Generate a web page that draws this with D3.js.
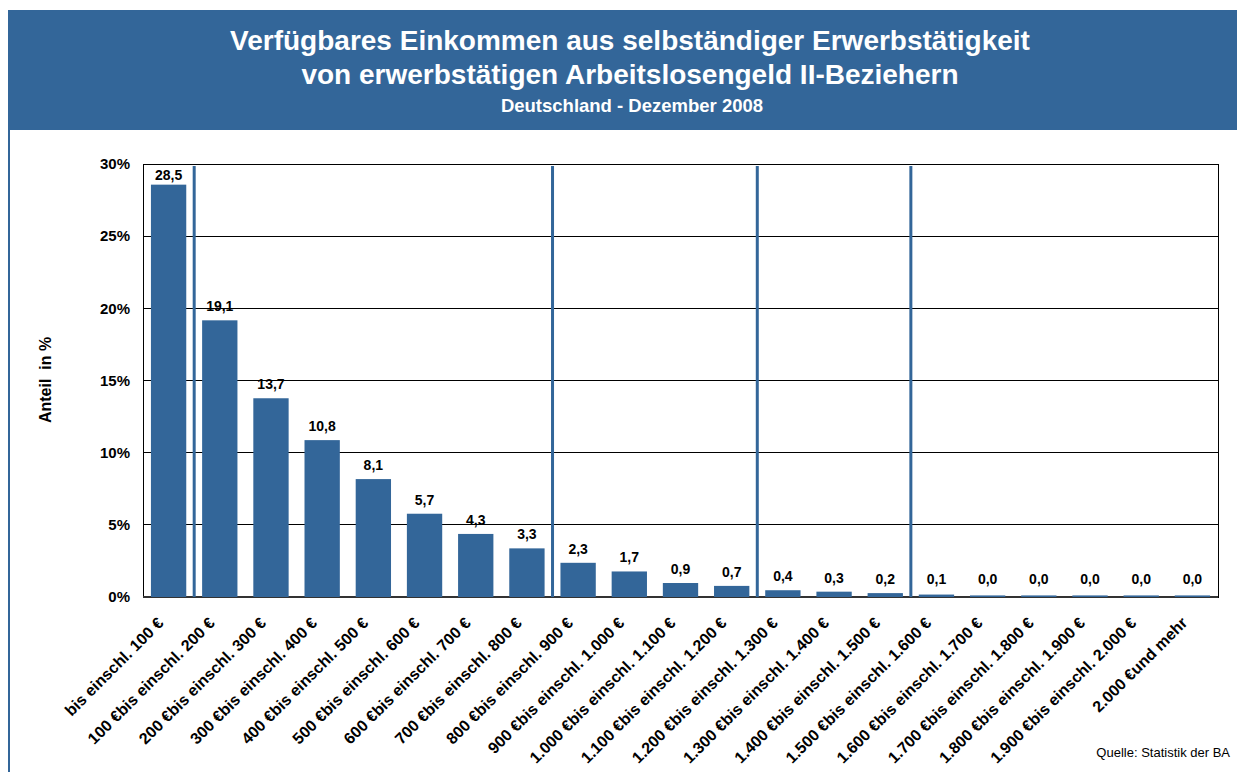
<!DOCTYPE html>
<meta charset="utf-8">
<style>
    body {
        margin: 0;
        background: #fff;
    }

    svg {
        font-family: "Liberation Sans", Arial, sans-serif;
    }
</style>
<body>
<script src="https://d3js.org/d3.v7.min.js"></script>
<script>
    // categories (x axis) and shares in %
    const categories = [
        "bis einschl. 100 €", "100 €bis einschl. 200 €", "200 €bis einschl. 300 €",
        "300 €bis einschl. 400 €", "400 €bis einschl. 500 €", "500 €bis einschl. 600 €",
        "600 €bis einschl. 700 €", "700 €bis einschl. 800 €", "800 €bis einschl. 900 €",
        "900 €bis einschl. 1.000 €", "1.000 €bis einschl. 1.100 €", "1.100 €bis einschl. 1.200 €",
        "1.200 €bis einschl. 1.300 €", "1.300 €bis einschl. 1.400 €", "1.400 €bis einschl. 1.500 €",
        "1.500 €bis einschl. 1.600 €", "1.600 €bis einschl. 1.700 €", "1.700 €bis einschl. 1.800 €",
        "1.800 €bis einschl. 1.900 €", "1.900 €bis einschl. 2.000 €", "2.000 €und mehr"
    ];
    const values = [28.5, 19.1, 13.7, 10.8, 8.1, 5.7, 4.3, 3.3, 2.3, 1.7, 0.9, 0.7,
        0.4, 0.3, 0.2, 0.1, 0.04, 0.04, 0.04, 0.04, 0.04];
    const yTicks = [0, 5, 10, 15, 20, 25, 30];
    // separator lines drawn before these categories
    const separators = [1, 8, 12, 15];

    const titleLines = [
        "Verfügbares Einkommen aus selbständiger Erwerbstätigkeit",
        "von erwerbstätigen Arbeitslosengeld II-Beziehern"
    ];
    const subtitle = "Deutschland - Dezember 2008";

    const width = 1237, height = 772;
    const blue = "#336699";
    const plot = {left: 143, right: 1218, top: 164, bottom: 597};

    const svg = d3.select("body").append("svg")
        .attr("width", width)
        .attr("height", height);

    // header band
    svg.append("rect")
        .attr("x", 8).attr("y", 10)
        .attr("width", width - 8).attr("height", 120)
        .attr("fill", blue);
    svg.append("line")
        .attr("x1", 9).attr("x2", 9)
        .attr("y1", 130).attr("y2", height)
        .attr("stroke", blue).attr("stroke-width", 2);

    svg.selectAll(".title")
        .data(titleLines)
        .enter().append("text")
        .attr("class", "title")
        .attr("x", 630)
        .attr("y", (d, i) => 50 + i * 34)
        .attr("text-anchor", "middle")
        .attr("fill", "#fff")
        .style("font-size", "28px")
        .style("font-weight", "bold")
        .text(d => d);
    svg.append("text")
        .attr("x", 632).attr("y", 112)
        .attr("text-anchor", "middle")
        .attr("fill", "#fff")
        .style("font-size", "18.5px")
        .style("font-weight", "bold")
        .text(subtitle);

    const x = d3.scaleBand()
        .domain(categories)
        .range([plot.left, plot.right])
        .paddingInner(0.31)
        .paddingOuter(0.155);
    const xb = d3.scaleBand().domain(categories).range([plot.left, plot.right]);

    const y = d3.scaleLinear()
        .domain([0, 30])
        .range([plot.bottom, plot.top]);

    // gridlines
    svg.append("g")
        .selectAll("line")
        .data(yTicks)
        .enter().append("line")
        .attr("x1", plot.left).attr("x2", plot.right)
        .attr("y1", d => y(d)).attr("y2", d => y(d))
        .attr("stroke", "#000").attr("stroke-width", 1)
        .attr("shape-rendering", "crispEdges");

    // plot frame + base line
    svg.append("rect")
        .attr("x", plot.left).attr("y", plot.top)
        .attr("width", plot.right - plot.left)
        .attr("height", plot.bottom - plot.top)
        .attr("fill", "none")
        .attr("stroke", "#000").attr("stroke-width", 1)
        .attr("shape-rendering", "crispEdges");
    svg.append("line")
        .attr("x1", plot.left).attr("x2", plot.right)
        .attr("y1", plot.bottom).attr("y2", plot.bottom)
        .attr("stroke", "#333").attr("stroke-width", 2);

    // y axis labels
    const yAxis = d3.axisLeft(y)
        .tickValues(yTicks)
        .tickSize(0)
        .tickPadding(13)
        .tickFormat(d => d + "%");
    svg.append("g")
        .attr("transform", "translate(" + plot.left + ",0)")
        .call(yAxis)
        .call(g => g.select(".domain").remove())
        .selectAll("text")
        .style("font-size", "15px")
        .style("font-weight", "bold")
        .style("font-family", "Liberation Sans, Arial, sans-serif")
        .attr("fill", "#000");

    svg.append("text")
        .attr("transform", "translate(51,380) rotate(-90)")
        .attr("text-anchor", "middle")
        .attr("xml:space", "preserve")
        .style("white-space", "pre")
        .style("font-size", "16px")
        .style("font-weight", "bold")
        .text("Anteil  in %");

    // bars (drawn over the base line, like the original)
    svg.append("g")
        .selectAll("rect")
        .data(values)
        .enter().append("rect")
        .attr("x", (d, i) => x(categories[i]))
        .attr("y", d => y(d) - 1)
        .attr("width", x.bandwidth())
        .attr("height", d => y(0) - y(d) + 1)
        .attr("fill", blue);

    // value labels
    const fmt = d => d3.format(".1f")(d).replace(".", ",");
    svg.append("g")
        .selectAll("text")
        .data(values)
        .enter().append("text")
        .attr("x", (d, i) => x(categories[i]) + x.bandwidth() / 2)
        .attr("y", d => Math.max(180, Math.min(584, y(d) - 10)))
        .attr("text-anchor", "middle")
        .style("font-size", "14px")
        .style("font-weight", "bold")
        .text(fmt);

    // separators
    svg.append("g")
        .selectAll("line")
        .data(separators)
        .enter().append("line")
        .attr("x1", d => xb(categories[d]))
        .attr("x2", d => xb(categories[d]))
        .attr("y1", plot.top + 2).attr("y2", plot.bottom)
        .attr("stroke", blue).attr("stroke-width", 3);

    // x labels
    svg.append("g")
        .selectAll("text")
        .data(categories)
        .enter().append("text")
        .attr("transform", d => "translate(" + (x(d) + x.bandwidth() / 2 - 8) + ",620) rotate(-45)")
        .attr("text-anchor", "end")
        .attr("dy", "0.35em")
        .style("font-size", "16px")
        .style("font-weight", "bold")
        .text(d => d);

    svg.append("text")
        .attr("x", 1230).attr("y", 757)
        .attr("text-anchor", "end")
        .style("font-size", "13px")
        .text("Quelle: Statistik der BA");
</script>
</body>
</html>
